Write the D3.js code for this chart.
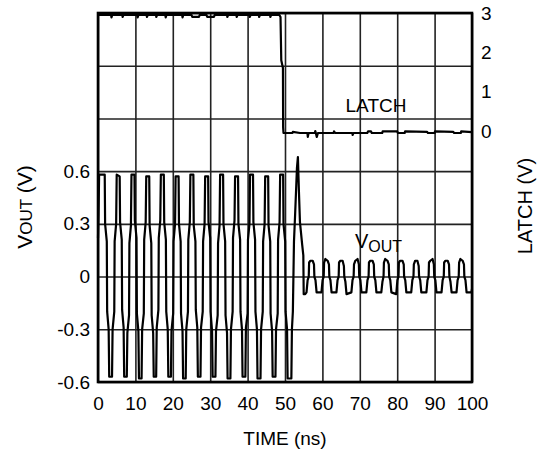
<!DOCTYPE html>
<html lang="en">
<head>
<meta charset="UTF-8">
<title>VOUT and LATCH vs time</title>
<script src="https://d3js.org/d3.v7.min.js"></script>
<style>
    body { margin: 0; background: #fff; }
    svg { display: block; }
    text { font-family: "Liberation Sans", Arial, sans-serif; fill: #000; }
    .grid line { stroke: #222; stroke-width: 1.6; }
    .trace { fill: none; stroke: #000; stroke-width: 2.2; stroke-linejoin: round; }
</style>
</head>
<body>
<div id="chart"></div>
<script>
    // ticks
    var xTicks = [0, 10, 20, 30, 40, 50, 60, 70, 80, 90, 100];
    var xLabels = ["0", "10", "20", "30", "40", "50", "60", "70", "80", "90", "100"];
    var voutTicks = [-0.6, -0.3, 0, 0.3, 0.6];
    var voutLabels = ["-0.6", "-0.3", "0", "0.3", "0.6"];
    var voutGrid = [-0.6, -0.3, 0, 0.3, 0.6, 0.9, 1.2, 1.5];
    var latchTicks = [0, 1, 2, 3];
    var latchLabels = ["0", "1", "2", "3"];

    // VOUT (V) vs time (ns): large swing while latch is high
    var voutBurst = [
        [0, 0.22], [0.12, 0.34], [0.3, 0.58],
        [1.8, 0.58], [1.9, 0.3], [2.35, 0.2], [2.45, -0.2], [2.85, -0.3], [3.0, -0.57], [3.75, -0.57], [3.9, -0.3], [4.35, -0.2], [4.45, 0.2], [4.85, 0.3], [5.0, 0.58],
        [5.8, 0.57], [5.9, 0.31], [6.35, 0.21], [6.45, -0.19], [6.85, -0.29], [7.0, -0.57], [7.7, -0.57], [7.85, -0.32], [8.3, -0.22], [8.4, 0.19], [8.8, 0.29], [8.95, 0.58],
        [9.75, 0.58], [9.85, 0.32], [10.3, 0.22], [10.4, -0.21], [10.8, -0.31], [10.95, -0.58], [11.65, -0.58], [11.8, -0.3], [12.25, -0.21], [12.35, 0.21], [12.75, 0.31], [12.9, 0.57],
        [13.7, 0.57], [13.8, 0.29], [14.25, 0.19], [14.35, -0.22], [14.75, -0.32], [14.9, -0.57], [15.55, -0.57], [15.7, -0.29], [16.15, -0.19], [16.25, 0.22], [16.65, 0.32], [16.8, 0.58],
        [17.6, 0.58], [17.7, 0.31], [18.15, 0.21], [18.25, -0.2], [18.65, -0.3], [18.8, -0.57], [19.5, -0.57], [19.65, -0.31], [20.1, -0.21], [20.2, 0.2], [20.6, 0.3], [20.75, 0.57],
        [21.55, 0.57], [21.65, 0.3], [22.1, 0.2], [22.2, -0.21], [22.6, -0.31], [22.75, -0.58], [23.45, -0.58], [23.6, -0.3], [24.05, -0.2], [24.15, 0.21], [24.55, 0.31], [24.7, 0.58],
        [25.5, 0.58], [25.6, 0.29], [26.05, 0.2], [26.15, -0.19], [26.55, -0.29], [26.7, -0.57], [27.4, -0.57], [27.55, -0.29], [28.0, -0.2], [28.1, 0.2], [28.5, 0.3], [28.65, 0.57],
        [29.45, 0.57], [29.55, 0.31], [30.0, 0.22], [30.1, -0.2], [30.5, -0.31], [30.65, -0.57], [31.4, -0.57], [31.55, -0.31], [32.0, -0.22], [32.1, 0.19], [32.5, 0.29], [32.65, 0.58],
        [33.45, 0.58], [33.55, 0.3], [34.0, 0.2], [34.1, -0.22], [34.5, -0.32], [34.65, -0.58], [35.4, -0.58], [35.55, -0.3], [36.0, -0.2], [36.1, 0.22], [36.5, 0.32], [36.65, 0.57],
        [37.45, 0.57], [37.55, 0.3], [38.0, 0.21], [38.1, -0.2], [38.5, -0.3], [38.65, -0.57], [39.4, -0.57], [39.55, -0.29], [40.0, -0.21], [40.1, 0.21], [40.5, 0.3], [40.65, 0.58],
        [41.45, 0.58], [41.55, 0.31], [42.0, 0.21], [42.1, -0.2], [42.5, -0.3], [42.65, -0.58], [43.45, -0.58], [43.6, -0.3], [44.05, -0.2], [44.15, 0.2], [44.55, 0.3], [44.7, 0.57],
        [45.5, 0.57], [45.6, 0.29], [46.05, 0.2], [46.15, -0.21], [46.55, -0.31], [46.7, -0.57], [47.45, -0.57], [47.6, -0.3], [48.05, -0.21], [48.15, 0.21], [48.55, 0.31], [48.7, 0.58],
        [49.5, 0.58], [49.6, 0.3], [50.05, 0.2], [50.15, -0.2], [50.55, -0.3], [50.7, -0.58], [51.7, -0.58], [51.85, -0.3], [52.1, -0.2], [52.4, 0.2], [52.7, 0.35], [53.2, 0.62], [53.45, 0.68],
        [53.7, 0.5], [54.0, 0.31], [54.6, 0.18], [54.9, 0.12], [55.0, -0.1], [55.4, -0.1]
    ];

    // VOUT (V) vs time (ns): small residual ringing after latch goes low
    var voutRing = [
        [55.75, -0.09], [56.05, -0.02], [56.35, 0.0], [56.45, 0.08], [56.8, 0.09], [57.4, 0.09], [57.75, 0.07], [57.85, 0.0], [58.15, -0.02], [58.45, -0.09],
        [59.75, -0.09], [60.05, -0.02], [60.35, 0.0], [60.45, 0.08], [60.8, 0.1], [61.4, 0.09], [61.75, 0.07], [61.85, 0.0], [62.15, -0.02], [62.45, -0.09],
        [63.75, -0.09], [64.05, -0.02], [64.35, 0.0], [64.45, 0.08], [64.8, 0.09], [65.4, 0.09], [65.75, 0.06], [65.85, 0.0], [66.15, -0.03], [66.45, -0.1],
        [67.75, -0.09], [68.05, -0.02], [68.35, 0.0], [68.45, 0.07], [68.8, 0.09], [69.4, 0.1], [69.75, 0.07], [69.85, 0.0], [70.15, -0.02], [70.45, -0.09],
        [71.75, -0.09], [72.05, -0.02], [72.35, 0.0], [72.45, 0.08], [72.8, 0.09], [73.4, 0.09], [73.75, 0.07], [73.85, 0.0], [74.15, -0.02], [74.45, -0.09],
        [75.75, -0.09], [76.05, -0.03], [76.35, 0.0], [76.45, 0.08], [76.8, 0.1], [77.4, 0.09], [77.75, 0.07], [77.85, 0.0], [78.15, -0.02], [78.45, -0.09],
        [79.75, -0.1], [80.05, -0.02], [80.35, 0.0], [80.45, 0.08], [80.8, 0.09], [81.4, 0.09], [81.75, 0.07], [81.85, 0.0], [82.15, -0.02], [82.45, -0.09],
        [83.75, -0.09], [84.05, -0.02], [84.35, 0.0], [84.45, 0.07], [84.8, 0.09], [85.4, 0.09], [85.75, 0.06], [85.85, 0.0], [86.15, -0.02], [86.45, -0.09],
        [87.8, -0.09], [88.1, -0.02], [88.4, 0.0], [88.5, 0.08], [88.85, 0.09], [89.45, 0.1], [89.8, 0.07], [89.9, 0.0], [90.2, -0.02], [90.5, -0.09],
        [91.85, -0.09], [92.15, -0.02], [92.45, 0.0], [92.55, 0.08], [92.9, 0.09], [93.5, 0.09], [93.85, 0.07], [93.95, 0.0], [94.25, -0.03], [94.55, -0.09],
        [95.85, -0.09], [96.15, -0.02], [96.45, 0.0], [96.55, 0.08], [96.9, 0.1], [97.5, 0.09], [97.85, 0.07], [97.95, 0.0], [98.25, -0.02], [98.55, -0.09],
        [99.85, -0.09], [100, -0.07]
    ];

    // LATCH (V) vs time (ns)
    var latch = [
        [0, 2.95], [3.5, 2.95], [3.6, 2.89], [3.8, 2.95], [6.5, 2.95], [6.6, 2.9], [6.8, 2.95],
        [10.5, 2.95], [10.6, 2.89], [10.8, 2.95], [13, 2.95], [13.1, 2.9], [13.3, 2.95],
        [15.5, 2.95], [15.6, 2.9], [15.8, 2.95], [18, 2.95], [18.1, 2.89], [18.3, 2.95],
        [22.5, 2.95], [22.6, 2.89], [22.8, 2.95], [25, 2.95], [25.2, 2.9], [27, 2.9], [27.2, 2.95],
        [29, 2.95], [29.2, 2.9], [31, 2.9], [31.2, 2.95], [34.5, 2.95], [34.6, 2.9], [34.8, 2.95],
        [37, 2.95], [37.1, 2.9], [37.3, 2.95], [40.5, 2.95], [40.6, 2.9], [40.8, 2.95],
        [43, 2.95], [43.1, 2.9], [43.3, 2.95], [46, 2.95], [46.1, 2.9], [46.3, 2.95],
        [48.5, 2.95], [48.8, 2.9], [49.0, 1.8], [49.45, 1.6], [49.5, 0.1], [49.6, -0.05],
        [52, -0.05], [52.1, -0.02], [54, -0.05], [56, -0.05], [56.1, -0.15], [56.3, -0.05],
        [58, -0.05], [58.1, 0.0], [58.5, -0.15], [58.8, -0.05], [63, -0.05], [63.1, -0.01], [63.4, -0.05],
        [68, -0.05], [68.1, -0.1], [68.3, -0.05], [72, -0.05], [72.2, -0.01], [73, -0.01], [73.2, -0.05],
        [76, -0.05], [76.1, -0.01], [80, -0.01], [80.2, -0.05], [82, -0.05], [82.1, -0.01], [88, -0.02],
        [88.2, -0.05], [90, -0.05], [90.1, -0.01], [95, -0.02], [95.2, -0.05], [97, -0.05], [97.1, -0.01], [100, -0.03]
    ];

    var W = 546, H = 451;
    var plotL = 98, plotR = 472, plotT = 13, plotB = 382;
    var fontSize = 19;

    var x = d3.scaleLinear().domain([0, 100]).range([plotL, plotR]);
    var yV = d3.scaleLinear().domain([-0.6, 1.5]).range([plotB, plotT]);
    var yL = d3.scaleLinear().domain([-6.38, 3]).range([plotB, plotT]);

    var svg = d3.select("#chart").append("svg")
        .attr("width", W)
        .attr("height", H);

    // grid
    svg.append("g")
        .attr("class", "grid")
        .attr("transform", "translate(0," + plotB + ")")
        .call(d3.axisBottom(x).tickValues(xTicks).tickSize(-(plotB - plotT)).tickFormat(""))
        .call(function(g) { g.select(".domain").remove(); });

    svg.append("g")
        .attr("class", "grid")
        .attr("transform", "translate(" + plotL + ",0)")
        .call(d3.axisLeft(yV).tickValues(voutGrid).tickSize(-(plotR - plotL)).tickFormat(""))
        .call(function(g) { g.select(".domain").remove(); });

    // tick labels
    function styleAxis(g) {
        g.select(".domain").remove();
        g.attr("font-family", null).attr("font-size", fontSize);
        g.selectAll("text").style("font-size", fontSize + "px");
    }

    svg.append("g")
        .attr("transform", "translate(0," + plotB + ")")
        .call(d3.axisBottom(x).tickValues(xTicks).tickSize(0).tickPadding(14.5)
            .tickFormat(function(d, i) { return xLabels[i]; }))
        .call(styleAxis);

    svg.append("g")
        .attr("transform", "translate(" + plotL + ",0)")
        .call(d3.axisLeft(yV).tickValues(voutTicks).tickSize(0).tickPadding(8)
            .tickFormat(function(d, i) { return voutLabels[i]; }))
        .call(styleAxis);

    svg.append("g")
        .attr("transform", "translate(" + plotR + ",0)")
        .call(d3.axisRight(yL).tickValues(latchTicks).tickSize(0).tickPadding(9)
            .tickFormat(function(d, i) { return latchLabels[i]; }))
        .call(styleAxis);

    // traces
    var lineV = d3.line()
        .x(function(d) { return x(d[0]); })
        .y(function(d) { return yV(d[1]); });

    var lineL = d3.line()
        .x(function(d) { return x(d[0]); })
        .y(function(d) { return yL(d[1]); });

    svg.append("path")
        .datum(voutBurst.concat(voutRing))
        .attr("class", "trace")
        .attr("d", lineV);

    svg.append("path")
        .datum(latch)
        .attr("class", "trace")
        .attr("d", lineL);

    // frame
    svg.append("rect")
        .attr("x", plotL)
        .attr("y", plotT)
        .attr("width", plotR - plotL)
        .attr("height", plotB - plotT)
        .attr("fill", "none")
        .attr("stroke", "#000")
        .attr("stroke-width", 2.6);

    // in-plot labels
    svg.append("text")
        .attr("x", 376)
        .attr("y", 112)
        .attr("text-anchor", "middle")
        .style("font-size", fontSize + "px")
        .text("LATCH");

    var vl = svg.append("text")
        .attr("x", 355)
        .attr("y", 248)
        .style("font-size", "20px");
    vl.append("tspan").text("V");
    vl.append("tspan").attr("dy", 4).style("font-size", "16px").text("OUT");

    // axis titles
    svg.append("text")
        .attr("x", 285)
        .attr("y", 445)
        .attr("text-anchor", "middle")
        .style("font-size", "19px")
        .text("TIME (ns)");

    var yt = svg.append("text")
        .attr("transform", "translate(32,207) rotate(-90)")
        .attr("text-anchor", "middle")
        .style("font-size", "21px");
    yt.append("tspan").text("V");
    yt.append("tspan").style("font-size", "17px").text("OUT");
    yt.append("tspan").text(" (V)");

    svg.append("text")
        .attr("transform", "translate(532,206) rotate(-90)")
        .attr("text-anchor", "middle")
        .style("font-size", "20px")
        .text("LATCH (V)");
</script>
</body>
</html>
